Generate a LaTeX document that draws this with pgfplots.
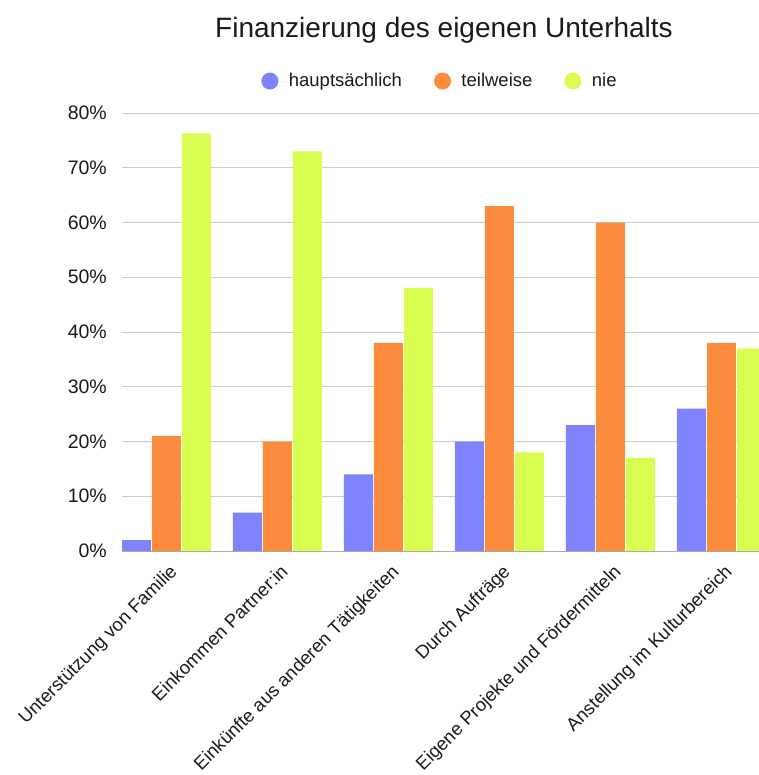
\documentclass[border=0pt]{standalone}
\usepackage{fontspec}
\setmainfont{Liberation Sans}
\usepackage{pgfplots}
\pgfplotsset{compat=1.18}
\definecolor{cblue}{HTML}{7F83FC}
\definecolor{corange}{HTML}{FB8C3D}
\definecolor{clime}{HTML}{D9FC50}
\definecolor{cgrid}{HTML}{CCCCCC}
\definecolor{caxis}{HTML}{AAAAAA}
\definecolor{ctext}{HTML}{1A1A1A}
\begin{document}
\begin{tikzpicture}
\begin{axis}[
  at={(122bp,224bp)}, anchor=south west,
  scale only axis, width=637bp, height=438bp,
  xmin=-0.40, xmax=5.339, ymin=0, ymax=80,
  ybar=1bp, bar width=29bp,
  legend image code/.code={\path (-8.5bp,0) -- (17bp,0);\fill[#1,draw=none] (0bp,0bp) circle (8.5bp);},
  axis x line*=bottom, axis y line*=left,
  x axis line style={draw=caxis, line width=1bp, -},
  y axis line style={draw=none},
  ymajorgrids, grid style={draw=cgrid, line width=1bp},
  major tick length=0pt,
  xtick={0,1,2,3,4,5},
  xticklabels={Unterstützung von Familie, Einkommen Partner:in, Einkünfte aus anderen Tätigkeiten, Durch Aufträge, Eigene Projekte und Fördermitteln, Anstellung im Kulturbereich},
  xticklabel style={font=\fontsize{18.5bp}{22bp}\selectfont, text=ctext, inner sep=0pt, xshift=2bp, yshift=-12bp, rotate=45, anchor=north east},
  ytick={0,10,20,30,40,50,60,70,80},
  yticklabels={0\%,10\%,20\%,30\%,40\%,50\%,60\%,70\%,80\%},
  yticklabel style={font=\fontsize{19.5bp}{23bp}\selectfont, text=ctext, inner sep=0pt, xshift=-15bp},
  legend style={at={(0.4992,1.073)}, anchor=center, draw=none, fill=none,
    font=\fontsize{18.5bp}{22bp}\selectfont, text=ctext,
    /tikz/every even column/.append style={column sep=30bp}},
  legend columns=3,
  legend cell align=left,
]
\addplot[fill=cblue, draw=none] coordinates {(0,2) (1,7) (2,14) (3,20) (4,23) (5,26)};
\addplot[fill=corange, draw=none] coordinates {(0,21) (1,20) (2,38) (3,63) (4,60) (5,38)};
\addplot[fill=clime, draw=none] coordinates {(0,76.3) (1,73) (2,48) (3,18) (4,17) (5,37)};
\legend{hauptsächlich, teilweise, nie}
\end{axis}
\node[anchor=base, text=ctext, font=\fontsize{28bp}{33bp}\selectfont] at (444bp,737bp) {Finanzierung des eigenen Unterhalts};
\pgfresetboundingbox
\useasboundingbox (0,0) rectangle (759bp,775bp);
\end{tikzpicture}
\end{document}
